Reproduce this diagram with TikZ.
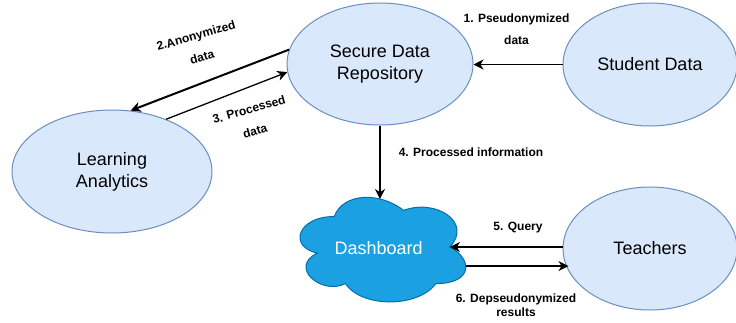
\documentclass[tikz,border=0pt]{standalone}
\usepackage{fontspec}
\setmainfont{Liberation Sans}
\usetikzlibrary{arrows.meta,shapes.geometric}
\definecolor{nodefill}{HTML}{DAE8FC}
\definecolor{nodeline}{HTML}{6C8EBF}
\definecolor{cloudfill}{HTML}{1BA1E2}
\definecolor{cloudline}{HTML}{006EAF}
\begin{document}
\begin{tikzpicture}[x=1pt,y=-1pt,
  actor/.style={ellipse, draw=nodeline, fill=nodefill, line width=1pt,
    inner sep=0pt, font=\fontsize{18}{22}\selectfont, align=center},
  lbl/.style={font=\bfseries\fontsize{12}{22}\selectfont, align=center, inner sep=0pt},
  flow/.style={-{Stealth[length=10pt,width=10pt,inset=3pt]}, line width=1.3pt},
]
\useasboundingbox (0,0) rectangle (736,322);

% actors
\node[actor, minimum width=186pt, minimum height=122pt] (sdr) at (380,64) {Secure Data\\Repository};
\node[actor, minimum width=174pt, minimum height=123pt] (sd) at (650,64.5) {Student Data};
\node[actor, minimum width=200pt, minimum height=123pt] (la) at (112,171.5) {Learning\\Analytics};
\node[actor, minimum width=174pt, minimum height=123pt] (tc) at (650,248.5) {Teachers};

% dashboard cloud
\begin{scope}[shift={(288,186)}, x=185pt, y=-122pt]
  \filldraw[fill=cloudfill, draw=cloudline, line width=1pt]
    (0.25,0.25) .. controls (0.05,0.25) and (0,0.5) .. (0.16,0.55)
    .. controls (0,0.66) and (0.18,0.9) .. (0.31,0.8)
    .. controls (0.4,1) and (0.7,1) .. (0.8,0.8)
    .. controls (1,0.8) and (1,0.6) .. (0.875,0.5)
    .. controls (1,0.3) and (0.8,0.1) .. (0.625,0.2)
    .. controls (0.5,0.05) and (0.3,0.05) .. (0.25,0.25) -- cycle;
  \coordinate (dtop) at (0.497,0.107);
  \coordinate (dq) at (0.875,0.5);
  \coordinate (dr) at (0.96,0.656);
  \node[text=white, font=\fontsize{18}{22}\selectfont, inner sep=0pt] (dash) at (0.49,0.51) {Dashboard};
\end{scope}

% flows
\draw[flow] (sd.west) -- (sd.west -| sdr.east);
\draw[flow, line width=2pt] (sdr.171) -- (la.73);
\draw[flow] (la.44) -- (sdr.185);
\draw[flow] (dtop |- sdr.south) -- (dtop);
\draw[flow] (dq -| tc.west) -- (dq);
\coordinate (tin) at ([xshift=6pt]tc.west |- dr);
\draw[flow] (dr) -- (tin);

% flow labels
\node[lbl] (l1) at (516.5,29) {1. Pseudonymized\\data};
\node[lbl, rotate=16] (l2) at (199,46) {2.Anonymized\\data};
\node[lbl, rotate=16] (l3) at (252,120) {3. Processed\\data};
\node[lbl] (l4) at (471,152) {4. Processed information};
\node[lbl] (l5) at (518,228) {5. Query};
\node[lbl, font=\bfseries\fontsize{12}{14}\selectfont] (l6) at (516,305) {6. Depseudonymized\\results};
\end{tikzpicture}
\end{document}
